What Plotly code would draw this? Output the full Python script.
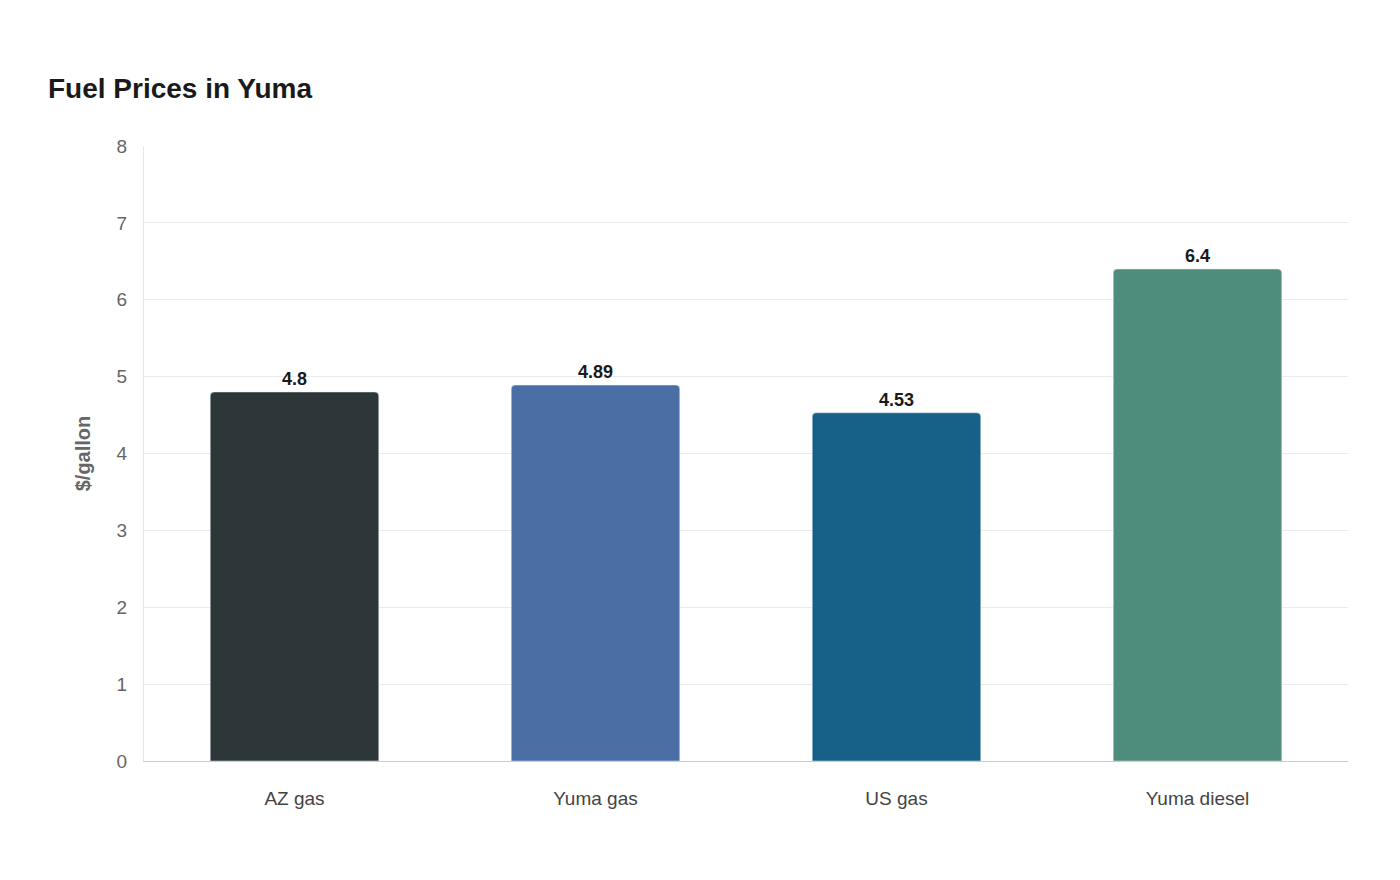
import plotly.graph_objects as go

categories = ["AZ gas", "Yuma gas", "US gas", "Yuma diesel"]
values = [4.8, 4.89, 4.53, 6.4]
colors = ["#2d3638", "#4a6fa5", "#176087", "#4e8d7c"]
labels = ["4.8", "4.89", "4.53", "6.4"]

fig = go.Figure(go.Bar(
    x=categories, y=values, marker_color=colors, width=0.56,
    text=labels, textposition="outside",
    textfont=dict(family="Liberation Sans, Arial", size=18, color="#1a1a1a", weight="bold"),
    cliponaxis=False,
))
fig.update_layout(
    width=1400, height=880, barcornerradius=4,
    paper_bgcolor="white", plot_bgcolor="white",
    font=dict(family="Liberation Sans, Arial", size=18, color="#666"),
    margin=dict(l=136, r=60, t=138, b=127),
    title=dict(text="<b>Fuel Prices in Yuma</b>", x=40/1400, xanchor="left", y=1-80/880, yanchor="middle",
               font=dict(size=28, color="#1a1a1a")),
    showlegend=False,
)
fig.update_yaxes(range=[0, 8], dtick=1, gridcolor="#ebebeb", zeroline=False,
                 showline=True, linecolor="#e6e6e6", ticks="outside", ticklen=12, tickcolor="rgba(0,0,0,0)",
                 title=dict(text="<b>$/gallon</b>", standoff=20, font=dict(size=20, color="#666")),
                 tickfont=dict(size=19, color="#666"))
fig.update_xaxes(showline=True, linecolor="#cccccc", ticks="outside", ticklen=20, tickcolor="rgba(0,0,0,0)",
                 tickfont=dict(size=19, color="#444"))
fig.write_html("out.html")
